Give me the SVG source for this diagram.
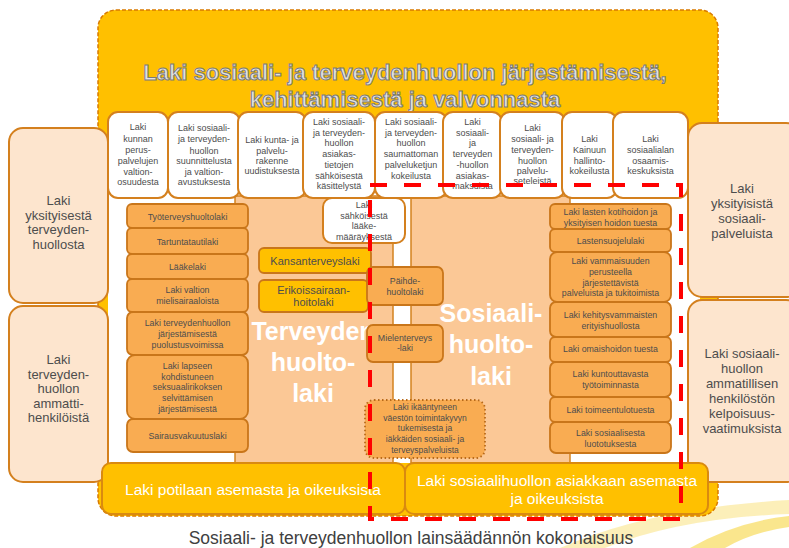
<svg xmlns="http://www.w3.org/2000/svg" width="789" height="548" viewBox="0 0 789 548">
<style>
text{font-family:"Liberation Sans",Arial,sans-serif;text-anchor:middle;fill:#4d4d4d}
.top{fill:#fff;stroke:#D4801E;stroke-width:2}
.side{fill:#FDE5CE;stroke:#D4801E;stroke-width:2}
.lo{fill:#F9AC52;stroke:#C9761A;stroke-width:1.8}
.gold{fill:#FFC000;stroke:#C9761A;stroke-width:1.8}
.reg{fill:#FBC896;stroke:#D3831F;stroke-width:1.5}
.bar{fill:#FFC000;stroke:#D98A10;stroke-width:2}
.s9{font-size:9px}
.s88{font-size:8.8px}
.s85{font-size:8.5px}
.s13{font-size:13px}
.s11{font-size:11px}
.big{font-size:25px;font-weight:bold;fill:#fff}
.barT{font-size:15.5px;fill:#fff}
.title{font-size:22px;font-weight:bold;fill:#e2e2e2;stroke:#7a7a7a;stroke-width:1}
</style>
<rect width="789" height="548" fill="#fff"/>
<!-- decorative swoosh -->
<path d="M560,548 Q650,508 789,500 L789,514 Q680,518 605,548 Z" fill="#FBEBA8" opacity="0.8"/>
<path d="M690,548 Q735,522 789,516 L789,527 Q752,532 725,548 Z" fill="#F8DC5C" opacity="0.7"/>

<g id="frame">
<rect x="98" y="10" width="620" height="506" rx="18" fill="#FFC000" stroke="#D97A00" stroke-width="1.5" stroke-dasharray="4 2"/>
<text class="title" x="405" y="80">Laki sosiaali- ja terveydenhuollon järjestämisestä,</text>
<text class="title" x="405" y="107">kehittämisestä ja valvonnasta</text>
<rect x="108" y="190" width="592" height="273" fill="#fff"/>
</g>

<g id="terveydenhuoltolaki">
<rect class="reg" x="235" y="196" width="158" height="267"/>
<text class="big" x="313" y="340">Terveyden</text>
<text class="big" x="313" y="371">huolto-</text>
<text class="big" x="313" y="402">laki</text>
</g>
<g id="sosiaalihuoltolaki">
<rect class="reg" x="411" y="196" width="159" height="267"/>
<text class="big" x="491" y="322">Sosiaali-</text>
<text class="big" x="491" y="353">huolto-</text>
<text class="big" x="491" y="385">laki</text>
</g>

<g id="top-laws">
<g id="t1"><rect class="top" x="108" y="112" width="60" height="86" rx="10"/>
<text class="s9"><tspan x="138" y="130">Laki</tspan><tspan x="138" y="142">kunnan</tspan><tspan x="138" y="153">perus-</tspan><tspan x="138" y="164">palvelujen</tspan><tspan x="138" y="175">valtion-</tspan><tspan x="138" y="185">osuudesta</tspan></text></g>
<g id="t2"><rect class="top" x="168" y="112" width="72" height="86" rx="10"/>
<text class="s9"><tspan x="204" y="131">Laki sosiaali-</tspan><tspan x="204" y="142">ja terveyden-</tspan><tspan x="204" y="154">huollon</tspan><tspan x="204" y="164">suunnittelusta</tspan><tspan x="204" y="175">ja valtion-</tspan><tspan x="204" y="185">avustuksesta</tspan></text></g>
<g id="t3"><rect class="top" x="238" y="112" width="68" height="86" rx="10"/>
<text class="s9"><tspan x="272" y="143">Laki kunta- ja</tspan><tspan x="272" y="154">palvelu-</tspan><tspan x="272" y="164">rakenne</tspan><tspan x="272" y="174">uudistuksesta</tspan></text></g>
<g id="t4"><rect class="top" x="303" y="112" width="72" height="86" rx="10"/>
<text class="s9"><tspan x="339" y="125">Laki sosiaali-</tspan><tspan x="339" y="135.7">ja terveyden-</tspan><tspan x="339" y="146.4">huollon</tspan><tspan x="339" y="157.1">asiakas-</tspan><tspan x="339" y="167.8">tietojen</tspan><tspan x="339" y="178.5">sähköisestä</tspan><tspan x="339" y="189.2">käsittelystä</tspan></text></g>
<g id="t5"><rect class="top" x="375" y="112" width="72" height="86" rx="10"/>
<text class="s9"><tspan x="411" y="125">Laki sosiaali-</tspan><tspan x="411" y="135.7">ja terveyden-</tspan><tspan x="411" y="146.4">huollon</tspan><tspan x="411" y="157.1">saumattoman</tspan><tspan x="411" y="167.8">palveluketjun</tspan><tspan x="411" y="178.5">kokeilusta</tspan></text></g>
<g id="t6"><rect class="top" x="443" y="112" width="59" height="86" rx="10"/>
<text class="s9"><tspan x="472.5" y="125">Laki</tspan><tspan x="472.5" y="135.7">sosiaali-</tspan><tspan x="472.5" y="146.4">ja</tspan><tspan x="472.5" y="157.1">terveyden</tspan><tspan x="472.5" y="167.8">-huollon</tspan><tspan x="472.5" y="178.5">asiakas-</tspan><tspan x="472.5" y="189.2">maksuista</tspan></text></g>
<g id="t7"><rect class="top" x="500" y="112" width="65" height="86" rx="10"/>
<text class="s9"><tspan x="532.5" y="131">Laki</tspan><tspan x="532.5" y="142">sosiaali- ja</tspan><tspan x="532.5" y="153">terveyden-</tspan><tspan x="532.5" y="164">huollon</tspan><tspan x="532.5" y="174">palvelu-</tspan><tspan x="532.5" y="184">seteleistä</tspan></text></g>
<g id="t8"><rect class="top" x="562" y="112" width="55" height="86" rx="10"/>
<text class="s9"><tspan x="589.5" y="142">Laki</tspan><tspan x="589.5" y="153">Kainuun</tspan><tspan x="589.5" y="164">hallinto-</tspan><tspan x="589.5" y="174">kokeilusta</tspan></text></g>
<g id="t9"><rect class="top" x="613" y="112" width="75" height="86" rx="10"/>
<text class="s9"><tspan x="650.5" y="142">Laki</tspan><tspan x="650.5" y="152.5">sosiaalialan</tspan><tspan x="650.5" y="164">osaamis-</tspan><tspan x="650.5" y="174">keskuksista</tspan></text></g>
</g>

<g id="laakemaarays"><rect class="top" x="323" y="198" width="82" height="45" rx="9"/>
<text class="s9"><tspan x="364" y="208">Laki</tspan><tspan x="364" y="218.5">sähköisestä</tspan><tspan x="364" y="229">lääke-</tspan><tspan x="364" y="239.5">määräyksestä</tspan></text></g>

<g id="side-left">
<g id="l1"><rect class="side" x="9" y="128" width="99" height="175" rx="14"/>
<text class="s13"><tspan x="58.5" y="205">Laki</tspan><tspan x="58.5" y="219.5">yksityisestä</tspan><tspan x="58.5" y="234">terveyden-</tspan><tspan x="58.5" y="248.5">huollosta</tspan></text></g>
<g id="l2"><rect class="side" x="9" y="306" width="99" height="176" rx="14"/>
<text class="s13"><tspan x="58.5" y="364">Laki</tspan><tspan x="58.5" y="378.5">terveyden-</tspan><tspan x="58.5" y="393">huollon</tspan><tspan x="58.5" y="407.5">ammatti-</tspan><tspan x="58.5" y="422">henkilöistä</tspan></text></g>
</g>
<g id="side-right">
<g id="r1"><rect class="side" x="688" y="123" width="112" height="174" rx="14"/>
<text class="s13"><tspan x="742" y="193">Laki</tspan><tspan x="742" y="208">yksityisistä</tspan><tspan x="742" y="223">sosiaali-</tspan><tspan x="742" y="238">palveluista</tspan></text></g>
<g id="r2"><rect class="side" x="688" y="300" width="112" height="182" rx="14"/>
<text class="s13"><tspan x="742" y="358">Laki sosiaali-</tspan><tspan x="742" y="373">huollon</tspan><tspan x="742" y="388">ammatillisen</tspan><tspan x="742" y="403">henkilöstön</tspan><tspan x="742" y="418">kelpoisuus-</tspan><tspan x="742" y="433">vaatimuksista</tspan></text></g>
</g>

<g id="health-laws">
<g id="h1"><rect class="lo" x="127" y="204" width="121" height="24" rx="5"/><text class="s88" x="187.5" y="220">Työterveyshuoltolaki</text></g>
<g id="h2"><rect class="lo" x="127" y="228" width="121" height="26" rx="5"/><text class="s88" x="187.5" y="245">Tartuntatautilaki</text></g>
<g id="h3"><rect class="lo" x="127" y="254" width="121" height="25" rx="5"/><text class="s88" x="187.5" y="270">Lääkelaki</text></g>
<g id="h4"><rect class="lo" x="127" y="279" width="121" height="33" rx="5"/><text class="s88"><tspan x="187.5" y="293">Laki valtion</tspan><tspan x="187.5" y="304">mielisairaaloista</tspan></text></g>
<g id="h5"><rect class="lo" x="127" y="312" width="121" height="43" rx="6"/><text class="s88"><tspan x="187.5" y="326">Laki terveydenhuollon</tspan><tspan x="187.5" y="337">järjestämisestä</tspan><tspan x="187.5" y="347.5">puolustusvoimissa</tspan></text></g>
<g id="h6"><rect class="lo" x="127" y="355" width="121" height="64" rx="8"/><text class="s88"><tspan x="187.5" y="369">Laki lapseen</tspan><tspan x="187.5" y="379.5">kohdistuneen</tspan><tspan x="187.5" y="390">seksuaalirikoksen</tspan><tspan x="187.5" y="401">selvittämisen</tspan><tspan x="187.5" y="412">järjestämisestä</tspan></text></g>
<g id="h7"><rect class="lo" x="127" y="419" width="121" height="33" rx="6"/><text class="s88" x="187.5" y="439">Sairausvakuutuslaki</text></g>
<g id="h8"><rect class="gold" x="259" y="248" width="112" height="25" rx="5"/><text class="s11" x="315" y="265" fill="#5a5040">Kansanterveyslaki</text></g>
<g id="h9"><rect class="gold" x="259" y="280" width="109" height="32" rx="5"/><text class="s11" fill="#5a5040"><tspan x="313.5" y="294">Erikoissairaan-</tspan><tspan x="313.5" y="306">hoitolaki</tspan></text></g>
</g>

<g id="shared-laws">
<g id="p1"><rect class="lo" x="367" y="267" width="76" height="38" rx="6"/><text class="s88"><tspan x="405" y="284">Päihde-</tspan><tspan x="405" y="295">huoltolaki</tspan></text></g>
<g id="p2"><rect class="lo" x="367" y="325" width="76" height="37" rx="6"/><text class="s88"><tspan x="405" y="341">Mielenterveys</tspan><tspan x="405" y="351">-laki</tspan></text></g>
<g id="p3"><rect x="365" y="400" width="120" height="58" rx="9" fill="#F9AC52" stroke="#B86A1A" stroke-width="1.8" stroke-dasharray="1.5 2.5"/>
<text class="s85"><tspan x="425" y="410">Laki ikääntyneen</tspan><tspan x="425" y="420.5">väestön toimintakyvyn</tspan><tspan x="425" y="431">tukemisesta ja</tspan><tspan x="425" y="442">iäkkäiden sosiaali- ja</tspan><tspan x="425" y="453">terveyspalveluista</tspan></text></g>
</g>

<g id="social-laws">
<g id="s1"><rect class="lo" x="550" y="204" width="121" height="25" rx="5"/><text class="s88"><tspan x="610.5" y="215">Laki lasten kotihoidon ja</tspan><tspan x="610.5" y="226">yksityisen hoidon tuesta</tspan></text></g>
<g id="s2"><rect class="lo" x="550" y="229" width="121" height="23" rx="5"/><text class="s88" x="610.5" y="244">Lastensuojelulaki</text></g>
<g id="s3"><rect class="lo" x="550" y="252" width="121" height="50" rx="7"/><text class="s88"><tspan x="610.5" y="264">Laki vammaisuuden</tspan><tspan x="610.5" y="275">perusteella</tspan><tspan x="610.5" y="285.5">järjestettävistä</tspan><tspan x="610.5" y="296">palveluista ja tukitoimista</tspan></text></g>
<g id="s4"><rect class="lo" x="550" y="302" width="121" height="35" rx="6"/><text class="s88"><tspan x="610.5" y="318">Laki kehitysvammaisten</tspan><tspan x="610.5" y="329">erityishuollosta</tspan></text></g>
<g id="s5"><rect class="lo" x="550" y="337" width="121" height="25" rx="5"/><text class="s88" x="610.5" y="352">Laki omaishoidon tuesta</text></g>
<g id="s6"><rect class="lo" x="550" y="362" width="121" height="35" rx="6"/><text class="s88"><tspan x="610.5" y="377">Laki kuntouttavasta</tspan><tspan x="610.5" y="388">työtoiminnasta</tspan></text></g>
<g id="s7"><rect class="lo" x="550" y="397" width="121" height="25" rx="5"/><text class="s88" x="610.5" y="413">Laki toimeentulotuesta</text></g>
<g id="s8"><rect class="lo" x="550" y="422" width="121" height="31" rx="6"/><text class="s88"><tspan x="610.5" y="436">Laki sosiaalisesta</tspan><tspan x="610.5" y="446.5">luototuksesta</tspan></text></g>
</g>

<g id="bottom-laws">
<g id="b1"><rect class="bar" x="102" y="463" width="303" height="51" rx="9"/><text class="barT" x="253" y="494.5">Laki potilaan asemasta ja oikeuksista</text></g>
<g id="b2"><rect class="bar" x="405" y="463" width="303" height="51" rx="9"/><text class="barT"><tspan x="557" y="485.5">Laki sosiaalihuollon asiakkaan asemasta</tspan><tspan x="557" y="503.5">ja oikeuksista</tspan></text></g>
</g>

<g id="connectors">
<path d="M370,185 H681 V519 H370 Z" fill="none" stroke="#FF0000" stroke-width="4" stroke-dasharray="17 17"/>
</g>

<text x="411" y="544" style="font-size:17.5px;fill:#404040">Sosiaali- ja terveydenhuollon lainsäädännön kokonaisuus</text>
</svg>
